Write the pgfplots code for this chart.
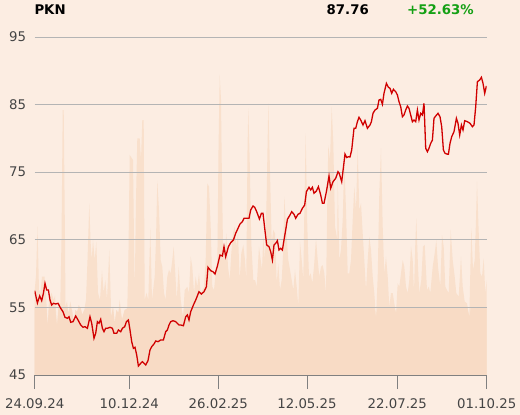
\documentclass[border=0pt]{standalone}
\usepackage{pgfplots}
\pgfplotsset{compat=1.18}
\usepackage{pgfplotstable}
\usepackage{fontspec}
\setmainfont{DejaVu Sans}

\definecolor{bgc}{RGB}{252,237,226}
\definecolor{volhi}{RGB}{249,224,204}
\definecolor{vollo}{RGB}{248,219,197}
\definecolor{pline}{RGB}{208,0,0}
\definecolor{gridc}{RGB}{180,180,180}
\definecolor{labc}{RGB}{68,68,68}
\definecolor{upc}{RGB}{20,160,20}

% volume, in percent of the plot height
\pgfplotstableread{
x v
0 25.1
1.3 29.3
2.8 43.9
4.3 25.1
5.8 24.3
7.3 29.1
9.8 29.1
11.6 22.2
13 14.3
14.3 22.2
16.8 24.3
19 22.2
20.3 23.4
22.3 14.3
24 21.3
25.6 21.3
26.8 40
28 78.4
29 78.4
30.3 40
30.8 20.2
32.3 21.9
33.8 18.3
35.6 21.7
37.3 19.2
39 15.4
40.8 19.2
42.3 18.6
44 20.7
46 19.7
47.6 17.8
49.6 19.2
51.3 22.2
52.8 34
54.6 50.8
55.8 40
57 34
58.3 40
60 34
61.6 39.4
63.3 24.3
65.3 22.2
67.3 30.9
69 24.3
70.6 28.1
72.3 22.2
74.6 37
76.6 17.2
78.3 20.2
80 15.3
81.8 19.2
83.6 18.3
85 22.2
87.3 16.3
90 19.2
92.6 19.7
93.8 37
95 65.1
97 64.2
98.3 63.6
100 24.3
101.3 51.8
102.6 70
105 70
106.3 63.6
107.6 75.4
109 75.4
110 22.2
111.8 24.3
113.6 22.2
115.6 43.4
117.3 22.2
120 29.1
121.3 40
122.6 57.5
124.3 48.8
126 34
127.6 32
129.3 24.3
130.8 22.2
132.6 29.1
134.3 31.1
136 30.1
137.6 34
139 38
140.6 30.1
142 22.2
144 32
146 22.2
148.3 17.2
150 25.1
152.6 26.1
154.3 24.3
156 35
157.6 32
159.3 24.3
161 29.1
162.6 26.1
164.3 30.1
166 24.3
167.6 25.1
169.3 26.1
171 34
172.6 56.7
174.3 55.7
176 43.9
177.6 26.1
179.3 25.1
181 30.1
182.6 32
183.8 66.6
185 88.8
186.3 81.4
187 63.6
188.3 38
190 35
191.6 41.9
193.3 32
195 28.1
196.6 36
198.3 41.9
200 43.9
201.6 38
203.3 41.9
205 28.1
206.6 36
208.6 38.5
210.3 34
211.6 28.1
212.8 66.6
213.6 78.9
215 63.6
216.6 39
218.6 28.1
220.3 28.1
222 26.1
224.3 38
226 34
227.3 31.1
228.6 40.9
230.3 34
232 53.8
233.6 80.4
234.8 66.6
235.8 53.8
237 39
238.6 42.9
240.3 41.9
242 27.1
243.6 33
245.3 25.1
247 28.1
248.6 37
249.6 52.8
251.3 43.9
253.6 34
255.3 31.1
257 28.1
258.6 25.1
260.3 31.1
262 26.1
263.6 20.2
265.3 39.4
267 34
268.6 28.1
269.8 51.8
271 71.5
272.6 43.9
274.3 29.1
276 30.1
277.6 27.1
279.3 32
281.3 40.4
283 34
284.6 29.1
286.3 32
288 32.5
289.6 30.1
291.3 24.2
292.6 51.8
293.6 68
295.3 63.6
297 79.4
298.6 68.6
300.3 43.9
302.6 40
303 58.7
304.6 34
306.3 37
308 45.9
309.6 63.6
311.3 48.8
313 30.1
314.6 30.1
316.3 34
318 45.9
319.6 55.7
321.3 48.8
323 67.1
324.6 48.8
326.3 50.8
328 41.9
329.6 34
331.3 25.1
333 34
334.6 40.9
336.3 37
338 29.1
339.6 24.2
341.3 16.8
343 29.1
344.6 53.8
346.3 67.1
348 43.9
349.6 30.1
351.3 35
353 29.1
354.6 20.2
356.3 24.2
358 24.2
359.6 21.2
361.3 18.3
363 27.1
364.6 26.1
366.3 30.1
368 34
369.6 32
371.3 26.1
373 24.2
374.6 28.1
376.3 38
378 34
379.3 24.3
380.6 39
381.6 46.4
383.3 32
384.6 24.2
386.6 28.1
388.3 38
390 38.5
392.3 25.1
394 26.1
395.6 24.2
398 32
400 36
401.6 39.9
403.3 32
405.6 26.1
407.3 41.4
409 38
410.6 26.1
412.3 25.1
414 24.2
416 42.9
418 34
420 29.1
421.6 24.2
424 23.2
426.3 35
428 26.1
430 21.7
432.3 21.2
434.6 17.2
436.6 43.4
438.3 31.1
440 34
441.3 45.9
442.3 57.2
443.8 43.9
445.6 30.1
447.3 29.1
449 34.5
450.6 24.2
452 28.1
}\voltab

% closing price
\pgfplotstableread{
x p
0 57.47
2.7 55.65
5 56.69
7 55.99
8.7 57.08
10.3 58.56
12 57.57
13.7 57.57
15.3 56.09
17 55.35
18.7 55.61
21 55.50
23.3 55.61
26 54.87
28.3 54.36
30.3 53.53
32.7 53.39
34.3 53.62
36 52.80
38.3 52.89
41 53.73
43.3 53.14
46 52.40
48.3 52.06
50.3 52.15
52.7 51.91
55.3 53.62
57 52.65
59.3 50.43
61 51.17
62.7 52.89
64.3 52.65
66 53.24
67.7 51.91
69.3 51.41
71 51.91
72.7 51.91
75.3 52.06
77.7 51.91
79.3 51.17
82 51.17
83.7 51.66
86 51.41
87.7 51.91
90 52.15
91.7 52.89
93.7 53.14
95.3 51.66
97 49.93
98.7 48.95
100.3 49.10
102 47.96
103.7 46.33
106 46.73
107.7 46.97
109.3 46.73
111 46.48
113.3 47.12
115.3 48.70
117 49.19
119.3 49.59
121 50.03
123.3 49.93
126 50.18
128.7 50.18
131 51.41
132.7 51.66
134.3 52.40
136 52.89
138.3 53.03
141 52.89
144.3 52.40
146 52.40
148.7 52.29
151 53.62
152.7 53.88
154.3 53.14
156 54.36
158.7 55.35
161 56.09
164.3 57.32
166.7 56.98
169.3 57.32
171.7 58.06
173.3 60.93
176 60.43
178.3 60.28
180.3 59.94
182.7 61.12
185.3 62.75
187.7 62.60
189.3 63.98
191 62.50
193.7 63.98
196 64.57
198.7 64.97
201 65.96
203.3 66.70
205.3 67.34
207.7 67.68
209.3 68.18
212.7 68.18
214.3 68.18
216 69.41
218.3 70.00
220 69.81
222 69.16
224.7 68.08
226.7 68.92
228.3 68.92
230 66.70
232 64.23
234.3 63.98
236 63.24
237.7 62.01
239.3 64.23
241 64.48
242.7 64.87
244.3 63.49
246 63.74
247.7 63.49
249.3 64.97
251 66.45
252.7 68.03
255.3 68.67
257 69.16
259.3 68.77
261 68.18
263.3 68.77
265.3 68.92
267.7 69.66
270 70.15
271.7 72.12
274.3 72.77
276 72.37
277.7 72.77
279.3 71.88
281.7 72.22
283.7 72.86
286 71.63
287.7 70.40
289.3 70.40
291.7 72.12
294.3 74.44
296 72.62
298.3 73.59
301 74.10
303.3 75.07
304.5 74.84
307 73.59
309 76.06
310.3 77.69
312 77.17
313.7 77.29
315.3 77.25
317 78.28
319.3 81.49
321 81.49
322.7 82.47
324.3 83.12
326 82.72
328.3 81.98
330.3 82.62
332.7 81.49
335.3 81.98
336.7 82.47
338.3 83.71
340.3 84.20
342.7 84.45
344.3 85.68
346 85.78
347.7 85.04
349.3 86.67
351.7 88.15
353.7 87.56
355.3 87.41
357 86.67
358.7 87.26
361 86.91
362.7 86.42
364.3 85.43
366 84.69
367.7 83.21
369.3 83.46
371 84.20
372.7 84.79
374.3 84.45
376 83.46
377.7 82.47
379.3 82.72
381 82.47
382.7 84.20
384.3 82.72
386 83.71
387.7 83.46
389.3 85.19
391 78.54
392.7 78.03
394.3 78.54
396 79.27
397.7 79.76
399.3 82.97
401 83.31
403.3 83.71
405.3 83.21
407 81.73
408.7 78.28
410.3 77.80
412 77.69
413.7 77.65
415.3 79.27
417 80.25
419.3 80.99
421.7 82.97
423.3 82.23
425 80.50
426.7 81.98
428.3 81.24
430 82.62
432.7 82.47
435.3 82.23
437.7 81.73
439.3 81.98
441 84.69
442.7 88.39
445 88.64
446.7 89.04
448.3 88.15
450 86.67
451.7 87.76
}\pricetab

\begin{document}
\begin{tikzpicture}
\fill[bgc] (0,0) rectangle (520bp,415bp);
\pgfplotsset{frame/.style={at={(34.7bp,40bp)}, anchor=south west,
  scale only axis, width=452bp, height=338bp, xmin=0, xmax=452}}

\begin{axis}[frame, ymin=0, ymax=100, hide axis]
\addplot[draw=none, fill=volhi] table[x=x, y=v]{\voltab} \closedcycle;
\addplot[draw=none, fill=vollo, y filter/.expression={min(y,20)}] table[x=x, y=v]{\voltab} \closedcycle;
\end{axis}

\begin{axis}[frame,
  ymin=45, ymax=95,
  ytick={45,55,65,75,85,95},
  xtick={0,94.6,183.6,272.3,362.6,452},
  xticklabels={24.09.24,10.12.24,26.02.25,12.05.25,22.07.25,01.10.25},
  axis x line*=bottom, axis y line*=left,
  x axis line style={-, draw=gray, line width=0.8bp},
  y axis line style={draw=none},
  ymajorgrids, major grid style={gridc, line width=0.8bp},
  tick align=outside, major tick length=14bp,
  xtick style={draw=gray, line width=0.8bp},
  ytick style={draw=none},
  tick label style={font=\fontsize{13.3bp}{15bp}\selectfont, text=labc},
  /pgf/number format/assume math mode=true,
  yticklabel style={anchor=east, inner sep=0pt, xshift=5.5bp},
  xticklabel style={anchor=center, inner sep=0pt, yshift=-14.8bp},
]
\addplot[pline, line width=1.3bp] table[x=x, y=p]{\pricetab};
\end{axis}

\node[anchor=west, inner sep=0pt, font=\bfseries\fontsize{13.3bp}{15bp}\selectfont] at (34.3bp,405.3bp) {PKN};
\node[anchor=east, inner sep=0pt, font=\bfseries\fontsize{13.3bp}{15bp}\selectfont] at (369bp,405.3bp) {87.76};
\node[anchor=west, inner sep=0pt, text=upc, font=\bfseries\fontsize{13.3bp}{15bp}\selectfont] at (407bp,405.3bp) {+52.63\%};

\pgfresetboundingbox
\path (0,0) rectangle (520bp,415bp);
\end{tikzpicture}
\end{document}
